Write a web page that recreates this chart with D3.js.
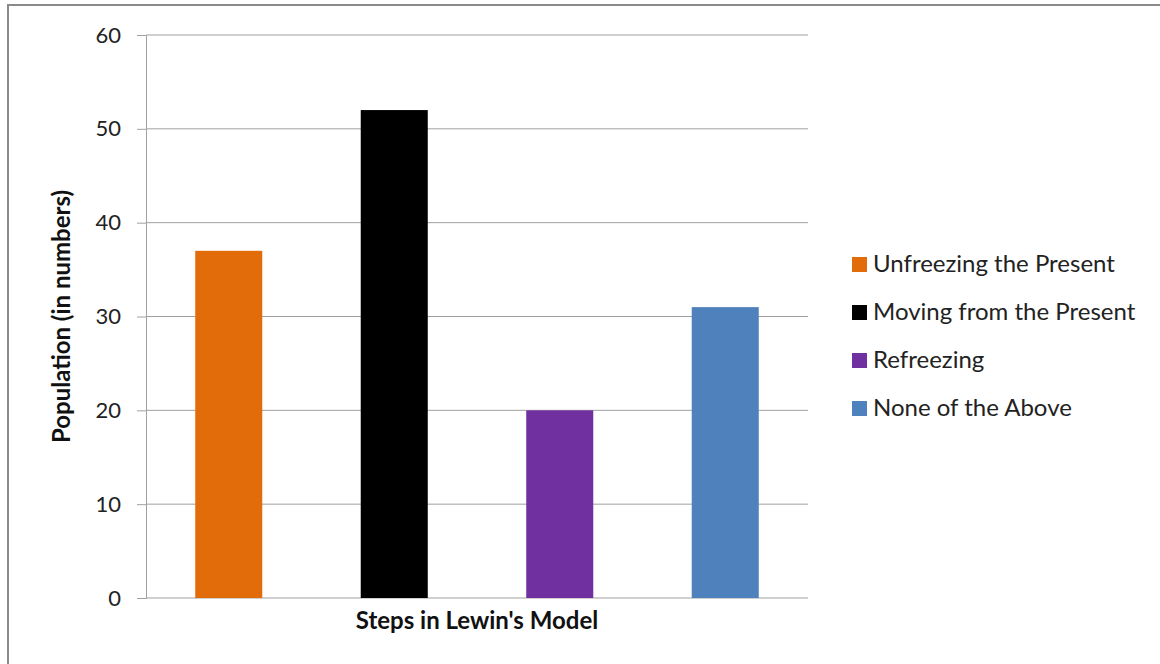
<!DOCTYPE html>
<html>
<head>
<meta charset="utf-8">
<script src="https://cdn.jsdelivr.net/npm/d3@7"></script>
<style>
  html, body { margin: 0; padding: 0; background: #fff; }
  svg { display: block; }
</style>
</head>
<body>
<div id="chart"></div>
<script>
// -------------------- DATA --------------------
const categories = ["Unfreezing the Present", "Moving from the Present", "Refreezing", "None of the Above"];
const values = [37, 52, 20, 31];
const colors = ["#E36C0A", "#000000", "#7030A0", "#4F81BD"];
const yTicks = [0, 10, 20, 30, 40, 50, 60];

// -------------------- CHART --------------------
const width = 1160, height = 664;
const fontFamily = "Lato, 'Open Sans', sans-serif";
const margin = { top: 35, right: 352, bottom: 66, left: 146 };

const svg = d3.select("#chart").append("svg")
    .attr("width", width)
    .attr("height", height);

// outer frame (only top/left edges visible in the crop)
svg.append("rect")
    .attr("x", 8).attr("y", 5)
    .attr("width", width + 20).attr("height", height + 20)
    .attr("fill", "none")
    .attr("stroke", "#8a8a8a")
    .attr("stroke-width", 2);

let x = d3.scaleBand()
    .domain(d3.range(categories.length))
    .range([margin.left, width - margin.right])
    .paddingInner(0.595)
    .paddingOuter(0.2975);

let y = d3.scaleLinear()
    .domain([0, 60])
    .range([height - margin.bottom, margin.top]);

// gridlines + y axis
let yAxis = g => g
    .attr("transform", `translate(${margin.left},0)`)
    .call(d3.axisLeft(y).tickValues(yTicks).tickSize(9).tickPadding(16))
    .call(g => g.select(".domain").attr("stroke", "#a0a0a0"))
    .call(g => g.selectAll(".tick line").attr("stroke", "#a0a0a0"))
    .call(g => g.selectAll(".tick text")
        .attr("font-family", fontFamily)
        .attr("font-size", 22)
        .attr("fill", "#222"));

svg.append("g")
    .selectAll("line")
    .data(yTicks)
    .join("line")
    .attr("x1", margin.left)
    .attr("x2", width - margin.right)
    .attr("y1", d => y(d))
    .attr("y2", d => y(d))
    .attr("stroke", "#a0a0a0")
    .attr("stroke-width", 1);

svg.append("g").call(yAxis);

// bars
svg.append("g")
    .selectAll("rect")
    .data(values)
    .join("rect")
    .attr("x", (d, i) => x(i))
    .attr("y", d => y(d))
    .attr("width", x.bandwidth())
    .attr("height", d => y(0) - y(d))
    .attr("fill", (d, i) => colors[i]);

// axis titles
svg.append("text")
    .attr("x", (margin.left + width - margin.right) / 2)
    .attr("y", 629)
    .attr("text-anchor", "middle")
    .attr("font-family", fontFamily)
    .attr("font-weight", "bold")
    .attr("font-size", 24)
    .attr("fill", "#111")
    .text("Steps in Lewin's Model");

svg.append("text")
    .attr("transform", `translate(70,${(margin.top + height - margin.bottom) / 2}) rotate(-90)`)
    .attr("text-anchor", "middle")
    .attr("font-family", fontFamily)
    .attr("font-weight", "bold")
    .attr("font-size", 24)
    .attr("fill", "#111")
    .text("Population (in numbers)");

// legend
const legend = svg.append("g")
    .selectAll("g")
    .data(categories)
    .join("g")
    .attr("transform", (d, i) => `translate(852,${264 + i * 48})`);

legend.append("rect")
    .attr("x", 0).attr("y", -7)
    .attr("width", 15).attr("height", 15)
    .attr("fill", (d, i) => colors[i]);

legend.append("text")
    .attr("x", 21)
    .attr("dy", "0.35em")
    .attr("font-family", fontFamily)
    .attr("font-size", 24)
    .attr("fill", "#222")
    .text(d => d);
</script>
</body>
</html>
